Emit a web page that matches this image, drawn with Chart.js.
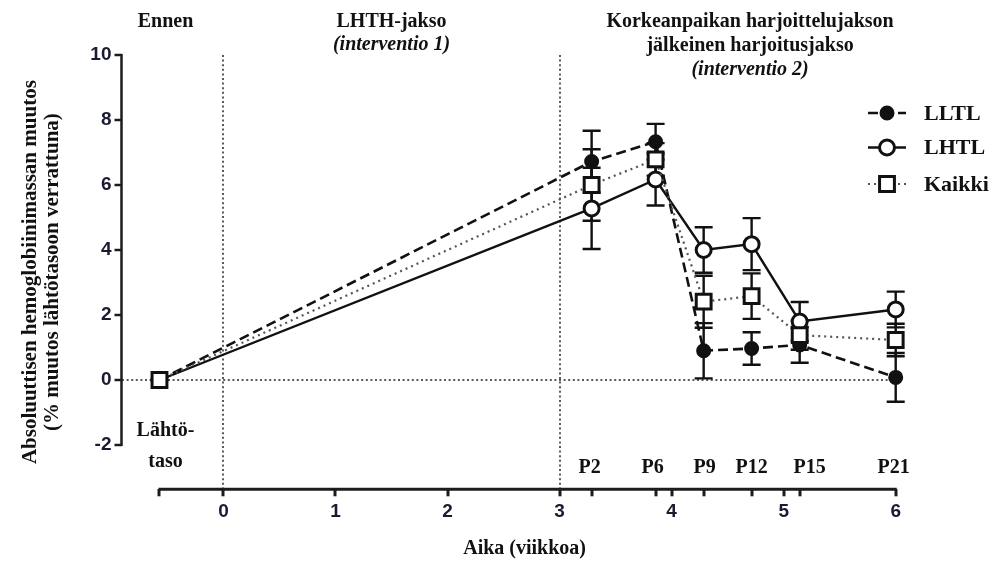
<!DOCTYPE html>
<html>
<head>
<meta charset="utf-8">
<script src="https://cdn.jsdelivr.net/npm/chart.js@4.4.1/dist/chart.umd.min.js"></script>
<style>
  html, body { margin: 0; padding: 0; background: #ffffff; }
  #wrap { width: 995px; height: 563px; position: relative; }
</style>
</head>
<body>
<div id="wrap"><canvas id="c" width="995" height="563"></canvas></div>
<script>
// ---- data ----
const pointLabels = ['Lähtö-|taso', 'P2', 'P6', 'P9', 'P12', 'P15', 'P21'];
const weeks = [-0.571, 3.286, 3.857, 4.286, 4.714, 5.143, 6.0];
const seriesNames = ['LLTL', 'LHTL', 'Kaikki'];
const lltl = [0, 6.72, 7.33, 0.90, 0.97, 1.08, 0.08];
const lltlErr = [0, 0.95, 0.55, 0.85, 0.50, 0.55, 0.75];
const lhtl = [0, 5.28, 6.17, 4.00, 4.18, 1.80, 2.17];
const lhtlErr = [0, 1.25, 0.80, 0.70, 0.80, 0.60, 0.55];
const kaikki = [0, 6.00, 6.79, 2.41, 2.58, 1.38, 1.23];
const kaikkiErr = [0, 1.10, 0.50, 0.80, 0.70, 0.45, 0.50];
const xTickValues = [0, 1, 2, 3, 4, 5, 6];
const yTickValues = [-2, 0, 2, 4, 6, 8, 10];
const phaseMarks = [0, 3];
const yTitle = ['Absoluuttisen hemoglobiinimassan muutos', '(% muutos lähtötasoon verrattuna)'];
const xTitle = 'Aika (viikkoa)';
const headEnnen = 'Ennen';
const headLHTH = ['LHTH-jakso', '(interventio 1)'];
const headPost = ['Korkeanpaikan harjoittelujakson', 'jälkeinen harjoitusjakso', '(interventio 2)'];

const INK = '#111111';
const TICKINK = '#1a1a30';
const SERIF = '"Liberation Serif", "Times New Roman", serif';
const SANS = '"Liberation Sans", Arial, sans-serif';

function pts(vals) { return vals.map((v, i) => ({ x: weeks[i], y: v })); }

const errs = [lltlErr, lhtlErr, kaikkiErr];

// all x ticks: baseline, integer weeks and measurement points
const allXTicks = Array.from(new Set([weeks[0], ...xTickValues, ...weeks.slice(1)])).sort((a, b) => a - b);

const errorBars = {
  id: 'errorBars',
  beforeDatasetsDraw(chart) {
    const { ctx, scales: { y } } = chart;
    ctx.save();
    ctx.strokeStyle = INK;
    ctx.lineWidth = 2.4;
    chart.data.datasets.forEach((ds, di) => {
      const meta = chart.getDatasetMeta(di);
      meta.data.forEach((pt, i) => {
        const e = errs[di][i];
        if (!e) return;
        const v = ds.data[i].y;
        const top = y.getPixelForValue(v + e);
        const bot = y.getPixelForValue(v - e);
        const cw = 9;
        ctx.beginPath();
        ctx.moveTo(pt.x, top); ctx.lineTo(pt.x, bot);
        ctx.moveTo(pt.x - cw, top); ctx.lineTo(pt.x + cw, top);
        ctx.moveTo(pt.x - cw, bot); ctx.lineTo(pt.x + cw, bot);
        ctx.stroke();
      });
    });
    ctx.restore();
  }
};

const axisLines = {
  id: 'axisLines',
  beforeDatasetsDraw(chart) {
    const { ctx, scales: { x, y } } = chart;
    ctx.save();
    ctx.strokeStyle = '#1c1c1c';
    // x axis (offset below the plot)
    ctx.lineWidth = 3;
    ctx.beginPath();
    ctx.moveTo(x.getPixelForValue(weeks[0]) - 1, x.top);
    ctx.lineTo(x.getPixelForValue(xTickValues[xTickValues.length - 1]) + 1, x.top);
    ctx.stroke();
    // y axis from -2 to 10
    ctx.lineWidth = 2.5;
    ctx.beginPath();
    ctx.moveTo(y.right, y.getPixelForValue(yTickValues[0]) + 1);
    ctx.lineTo(y.right, y.getPixelForValue(yTickValues[yTickValues.length - 1]) - 1);
    ctx.stroke();
    ctx.restore();
  }
};

function drawLegendMarker(chart, ctx, di, cx, cy) {
  const ds = chart.data.datasets[di];
  ctx.save();
  ctx.strokeStyle = ds.borderColor;
  ctx.lineWidth = ds.borderWidth;
  ctx.setLineDash(ds.borderDash || []);
  ctx.beginPath();
  ctx.moveTo(cx - 19, cy); ctx.lineTo(cx + 19, cy);
  ctx.stroke();
  ctx.setLineDash([]);
  ctx.fillStyle = ds.pointBackgroundColor;
  ctx.strokeStyle = ds.pointBorderColor;
  ctx.lineWidth = ds.pointBorderWidth;
  Chart.helpers.drawPoint(ctx, {
    pointStyle: ds.pointStyle,
    radius: ds.pointRadius,
    borderWidth: ds.pointBorderWidth,
    rotation: 0
  }, cx, cy);
  ctx.restore();
}

const annotations = {
  id: 'annotations',
  afterDraw(chart) {
    const { ctx, scales: { x, y } } = chart;
    ctx.save();
    ctx.fillStyle = INK;
    ctx.textAlign = 'center';
    ctx.textBaseline = 'middle';

    // top headings
    ctx.font = 'bold 20px ' + SERIF;
    ctx.fillText(headEnnen, x.getPixelForValue(weeks[0]) + 6, 22);
    const midA = (x.getPixelForValue(phaseMarks[0]) + x.getPixelForValue(phaseMarks[1])) / 2;
    ctx.fillText(headLHTH[0], midA, 22);
    ctx.font = 'italic bold 20px ' + SERIF;
    ctx.fillText(headLHTH[1], midA, 45);
    const midB = x.getPixelForValue(4.7);
    ctx.font = 'bold 20px ' + SERIF;
    ctx.fillText(headPost[0], midB, 22);
    ctx.fillText(headPost[1], midB, 46);
    ctx.font = 'italic bold 20px ' + SERIF;
    ctx.fillText(headPost[2], midB, 70);

    // point labels above x axis
    const nudge = [6, -2, -3, 1, 0, 10, -2];
    ctx.font = 'bold 20px ' + SERIF;
    pointLabels.forEach((lab, i) => {
      const px = x.getPixelForValue(weeks[i]) + nudge[i];
      const parts = lab.split('|');
      if (parts.length === 2) {
        ctx.fillText(parts[0], px, x.top - 58);
        ctx.fillText(parts[1], px, x.top - 27);
      } else {
        ctx.fillText(lab, px, x.top - 21);
      }
    });

    // x title centred on the drawn axis
    ctx.font = 'bold 20px ' + SERIF;
    const axMid = (x.getPixelForValue(weeks[0]) + x.getPixelForValue(6)) / 2;
    ctx.fillText(xTitle, axMid - 3, 549);

    // legend
    const rows = [113, 147.5, 184];
    ctx.textAlign = 'left';
    ctx.font = 'bold 22px ' + SERIF;
    seriesNames.forEach((n, i) => {
      drawLegendMarker(chart, ctx, i, 887, rows[i]);
      ctx.fillStyle = INK;
      ctx.fillText(n, 924, rows[i] + 1);
    });
    ctx.restore();
  }
};

const chart = new Chart(document.getElementById('c'), {
  type: 'line',
  data: {
    datasets: [
      {
        label: seriesNames[0], data: pts(lltl),
        borderColor: INK, borderWidth: 2.6, borderDash: [10, 5],
        pointStyle: 'circle', pointRadius: 6.5, pointBorderWidth: 2,
        pointBackgroundColor: INK, pointBorderColor: INK,
        clip: false, tension: 0, order: 1
      },
      {
        label: seriesNames[1], data: pts(lhtl),
        borderColor: INK, borderWidth: 2.4, borderDash: [],
        pointStyle: 'circle', pointRadius: 7.5, pointBorderWidth: 3,
        pointBackgroundColor: '#ffffff', pointBorderColor: INK,
        clip: false, tension: 0, order: 2
      },
      {
        label: seriesNames[2], data: pts(kaikki),
        borderColor: '#555555', borderWidth: 2.2, borderDash: [2, 4],
        pointStyle: 'rect', pointRadius: 10.5, pointBorderWidth: 3,
        pointBackgroundColor: '#ffffff', pointBorderColor: INK,
        clip: false, tension: 0, order: 0
      }
    ]
  },
  options: {
    responsive: false,
    animation: false,
    devicePixelRatio: 1,
    layout: { padding: { top: 55, right: 99.3, bottom: 0, left: 0 } },
    plugins: { legend: { display: false }, tooltip: { enabled: false } },
    scales: {
      x: {
        type: 'linear', min: -0.91, max: 6,
        afterBuildTicks: (s) => { s.ticks = allXTicks.map(v => ({ value: v })); },
        afterFit: (s) => { s.height = 73.7; },
        ticks: {
          autoSkip: false, maxRotation: 0, padding: 4,
          color: TICKINK, font: { family: SANS, weight: 'bold', size: 19 },
          callback: (v) => (xTickValues.includes(v) ? String(v) : '')
        },
        border: { display: false, dash: [2, 2.6] },
        grid: {
          drawOnChartArea: true, drawTicks: true, tickLength: 7, tickWidth: 3, tickColor: '#1c1c1c',
          tickBorderDash: [],
          lineWidth: 2,
          color: (c) => (c.tick && phaseMarks.includes(c.tick.value) ? '#5a5a5a' : 'rgba(0,0,0,0)')
        }
      },
      y: {
        type: 'linear', min: -3.363, max: 10,
        afterBuildTicks: (s) => { s.ticks = yTickValues.map(v => ({ value: v })); },
        afterFit: (s) => { s.width = 121.5; },
        ticks: {
          autoSkip: false, padding: 3,
          color: TICKINK, font: { family: SANS, weight: 'bold', size: 19 },
          callback: (v) => String(v)
        },
        title: {
          display: true, text: yTitle, color: INK,
          font: { family: SERIF, weight: 'bold', size: 21, lineHeight: 1.05 },
          padding: { top: 20, bottom: 0 }
        },
        border: { display: false, dash: [2, 2.6] },
        grid: {
          drawOnChartArea: true, drawTicks: true, tickLength: 7, tickWidth: 2.5, tickColor: '#1c1c1c',
          tickBorderDash: [],
          lineWidth: 2,
          color: (c) => (c.tick && c.tick.value === 0 ? '#5a5a5a' : 'rgba(0,0,0,0)')
        }
      }
    }
  },
  plugins: [axisLines, errorBars, annotations]
});
</script>
</body>
</html>
